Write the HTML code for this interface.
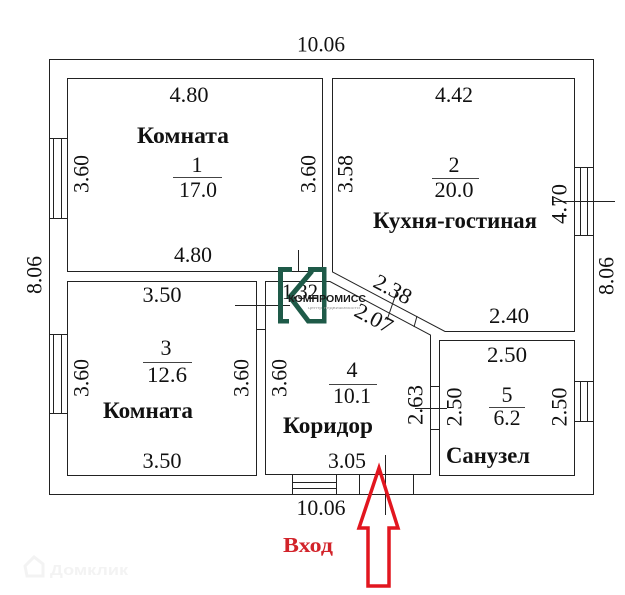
<!DOCTYPE html>
<html>
<head>
<meta charset="utf-8">
<style>
  html,body{margin:0;padding:0;background:#fff;}
  svg{display:block;}
  .n{font-family:"Liberation Serif","DejaVu Serif",serif;font-size:22px;fill:#111;}
  .b{font-family:"Liberation Serif","DejaVu Serif",serif;font-size:23px;font-weight:bold;fill:#111;}
</style>
</head>
<body>
<svg width="625" height="595" viewBox="0 0 625 595" xmlns="http://www.w3.org/2000/svg">
  <rect x="0" y="0" width="625" height="595" fill="#fff"/>

  <!-- watermark -->
  <g fill="none" stroke="#f3f3f3" stroke-width="3">
    <path d="M25,566 L34,557 L43,564 L43,576 L27,576 Z"/>
  </g>
  <text x="50" y="575" font-family="Liberation Sans, DejaVu Sans, sans-serif" font-weight="bold" font-size="15" fill="#f3f3f3" textLength="78" lengthAdjust="spacingAndGlyphs">Домклик</text>

  <g fill="none" stroke="#222" stroke-width="1">
    <!-- outer -->
    <rect x="49.5" y="59.5" width="544" height="435"/>
    <!-- room 1 -->
    <rect x="67.5" y="78.5" width="255" height="193"/>
    <!-- room 2 -->
    <polygon points="332.5,78.5 574.5,78.5 574.5,331.5 445,331.5 332.5,272"/>
    <!-- room 3 -->
    <rect x="67.5" y="281.5" width="189" height="194"/>
    <!-- corridor -->
    <polygon points="265.5,281.5 330,281.5 430.5,335 430.5,474.5 265.5,474.5"/>
    <!-- sanuzel -->
    <rect x="439.5" y="340.5" width="135" height="135"/>

    <!-- left windows -->
    <path d="M49.5,138.5 H67.5 M49.5,218.5 H67.5 M53.5,138.5 V218.5 M61.5,138.5 V218.5"/>
    <path d="M49.5,334.5 H67.5 M49.5,413.5 H67.5 M53.5,334.5 V413.5 M61.5,334.5 V413.5"/>
    <!-- right windows -->
    <path d="M574.5,167.5 H593.5 M574.5,235.5 H593.5 M580.5,167.5 V235.5 M587.5,167.5 V235.5"/>
    <path d="M553,201.5 H615"/>
    <path d="M574.5,381.5 H593.5 M574.5,421.5 H593.5 M580.5,381.5 V421.5 M587.5,381.5 V421.5"/>
    <!-- bottom window -->
    <path d="M292.5,474.5 V494.5 M336.5,474.5 V494.5 M292.5,482.5 H336.5 M292.5,488.5 H336.5"/>
    <!-- entrance door -->
    <path d="M359.5,474.5 V494.5 M413.5,474.5 V494.5"/>
    <path d="M385.5,455 V515"/>

    <!-- door room3/corridor -->
    <path d="M256.5,329.5 H265.5"/>
    <path d="M235,305.5 H290"/>
    <!-- door room1/corridor -->
    <path d="M278.5,271.5 V281.5"/>
    <path d="M298.5,250 V272"/>
    <!-- diagonal ticks -->
    <path d="M417,316 L414,327"/>
    <path d="M397,291 L387,320"/>
    <!-- sanuzel door -->
    <path d="M430.5,386.5 H439.5 M430.5,429.5 H439.5 M415,408.5 H447"/>
  </g>

  <!-- Room 1 -->
  <text class="n" x="321" y="51.5" text-anchor="middle" textLength="48" lengthAdjust="spacingAndGlyphs">10.06</text>
  <text class="n" x="189" y="102" text-anchor="middle" textLength="39" lengthAdjust="spacingAndGlyphs">4.80</text>
  <text class="b" x="183" y="143" text-anchor="middle" textLength="92" lengthAdjust="spacingAndGlyphs">Комната</text>
  <text class="n" x="197" y="172" text-anchor="middle">1</text>
  <line x1="173" y1="177.5" x2="222" y2="177.5" stroke="#444" stroke-width="1"/>
  <text class="n" x="198" y="197" text-anchor="middle" textLength="38" lengthAdjust="spacingAndGlyphs">17.0</text>
  <text class="n" transform="translate(81,174) rotate(-90)" x="0" y="7.5" text-anchor="middle" textLength="38" lengthAdjust="spacingAndGlyphs">3.60</text>
  <text class="n" transform="translate(308,174) rotate(-90)" x="0" y="7.5" text-anchor="middle" textLength="38" lengthAdjust="spacingAndGlyphs">3.60</text>
  <text class="n" x="193" y="262" text-anchor="middle" textLength="38" lengthAdjust="spacingAndGlyphs">4.80</text>

  <!-- Room 2 -->
  <text class="n" x="454" y="102" text-anchor="middle" textLength="38" lengthAdjust="spacingAndGlyphs">4.42</text>
  <text class="n" transform="translate(345,174) rotate(-90)" x="0" y="7.5" text-anchor="middle" textLength="38" lengthAdjust="spacingAndGlyphs">3.58</text>
  <text class="n" x="454" y="172" text-anchor="middle">2</text>
  <line x1="432" y1="178.5" x2="479" y2="178.5" stroke="#444" stroke-width="1"/>
  <text class="n" x="454" y="197" text-anchor="middle" textLength="39" lengthAdjust="spacingAndGlyphs">20.0</text>
  <text class="b" x="455" y="228" text-anchor="middle" textLength="164" lengthAdjust="spacingAndGlyphs">Кухня-гостиная</text>
  <text class="n" transform="translate(559,204) rotate(-90)" x="0" y="7.5" text-anchor="middle" textLength="40" lengthAdjust="spacingAndGlyphs">4.70</text>
  <text class="n" x="509" y="323" text-anchor="middle" textLength="40" lengthAdjust="spacingAndGlyphs">2.40</text>
  <text class="n" transform="translate(393,289) rotate(28)" x="0" y="7.5" text-anchor="middle" textLength="40" lengthAdjust="spacingAndGlyphs">2.38</text>
  <text class="n" transform="translate(374,318) rotate(28)" x="0" y="7.5" text-anchor="middle" textLength="40" lengthAdjust="spacingAndGlyphs">2.07</text>

  <!-- Room 3 -->
  <text class="n" x="162" y="302" text-anchor="middle" textLength="39" lengthAdjust="spacingAndGlyphs">3.50</text>
  <text class="n" x="166" y="355" text-anchor="middle">3</text>
  <line x1="143" y1="362.5" x2="192" y2="362.5" stroke="#444" stroke-width="1"/>
  <text class="n" x="167" y="382" text-anchor="middle" textLength="40" lengthAdjust="spacingAndGlyphs">12.6</text>
  <text class="n" transform="translate(81,378) rotate(-90)" x="0" y="7.5" text-anchor="middle" textLength="38" lengthAdjust="spacingAndGlyphs">3.60</text>
  <text class="n" transform="translate(241,378) rotate(-90)" x="0" y="7.5" text-anchor="middle" textLength="38" lengthAdjust="spacingAndGlyphs">3.60</text>
  <text class="b" x="148" y="418" text-anchor="middle" textLength="90" lengthAdjust="spacingAndGlyphs">Комната</text>
  <text class="n" x="162" y="468" text-anchor="middle" textLength="39" lengthAdjust="spacingAndGlyphs">3.50</text>

  <!-- Corridor -->
  <text class="n" x="300" y="299" text-anchor="middle" textLength="36" lengthAdjust="spacingAndGlyphs">1.32</text>
  <text class="n" transform="translate(279,378) rotate(-90)" x="0" y="7.5" text-anchor="middle" textLength="38" lengthAdjust="spacingAndGlyphs">3.60</text>
  <text class="n" x="352" y="377" text-anchor="middle">4</text>
  <line x1="329" y1="384.5" x2="377" y2="384.5" stroke="#444" stroke-width="1"/>
  <text class="n" x="352" y="403" text-anchor="middle" textLength="38" lengthAdjust="spacingAndGlyphs">10.1</text>
  <text class="b" x="328" y="433" text-anchor="middle" textLength="90" lengthAdjust="spacingAndGlyphs">Коридор</text>
  <text class="n" transform="translate(415,405) rotate(-90)" x="0" y="7.5" text-anchor="middle" textLength="40" lengthAdjust="spacingAndGlyphs">2.63</text>
  <text class="n" x="347" y="468" text-anchor="middle" textLength="38" lengthAdjust="spacingAndGlyphs">3.05</text>

  <!-- Sanuzel -->
  <text class="n" x="507" y="362" text-anchor="middle" textLength="40" lengthAdjust="spacingAndGlyphs">2.50</text>
  <text class="n" x="507" y="402" text-anchor="middle">5</text>
  <line x1="489" y1="407.5" x2="525" y2="407.5" stroke="#444" stroke-width="1"/>
  <text class="n" x="507" y="425" text-anchor="middle" textLength="27" lengthAdjust="spacingAndGlyphs">6.2</text>
  <text class="n" transform="translate(454,407) rotate(-90)" x="0" y="7.5" text-anchor="middle" textLength="39" lengthAdjust="spacingAndGlyphs">2.50</text>
  <text class="n" transform="translate(559,407) rotate(-90)" x="0" y="7.5" text-anchor="middle" textLength="39" lengthAdjust="spacingAndGlyphs">2.50</text>
  <text class="b" x="488" y="463" text-anchor="middle" textLength="84" lengthAdjust="spacingAndGlyphs">Санузел</text>

  <!-- Outer dims -->
  <text class="n" x="321" y="515" text-anchor="middle" textLength="49" lengthAdjust="spacingAndGlyphs">10.06</text>
  <text class="n" transform="translate(34,275) rotate(-90)" x="0" y="7.5" text-anchor="middle" textLength="38" lengthAdjust="spacingAndGlyphs">8.06</text>
  <text class="n" transform="translate(606,276) rotate(-90)" x="0" y="7.5" text-anchor="middle" textLength="38" lengthAdjust="spacingAndGlyphs">8.06</text>

  <!-- Entrance -->
  <text x="308" y="552" text-anchor="middle" font-family="Liberation Serif, DejaVu Serif, serif" font-weight="bold" font-size="21" fill="#d2232a" textLength="50" lengthAdjust="spacingAndGlyphs">Вход</text>
  <polygon points="379,468 398,528 389,528 389,586 368,586 368,528 359,528" fill="none" stroke="#e2161f" stroke-width="3.5" stroke-linejoin="miter"/>

  <!-- Logo -->
  <g fill="#1e5a48">
    <path d="M278,267 H292 V272 H283 V319 H289 V323.5 H278 Z"/>
    <path d="M308,267 H326.5 V323.5 H307 V319 H322 V272 H308 Z"/>
  </g>
  <polyline points="312,271 290,297 309,322" fill="none" stroke="#1e5a48" stroke-width="5"/>
  <text x="288" y="302" font-family="Liberation Sans, DejaVu Sans, sans-serif" font-weight="bold" font-size="10" fill="#1a1a1a" textLength="78" lengthAdjust="spacingAndGlyphs">КОМПРОМИСС</text>
  <text x="308" y="309" font-family="Liberation Sans, DejaVu Sans, sans-serif" font-size="3.5" fill="#999" textLength="52" lengthAdjust="spacingAndGlyphs">центр недвижимости</text>
</svg>
</body>
</html>
